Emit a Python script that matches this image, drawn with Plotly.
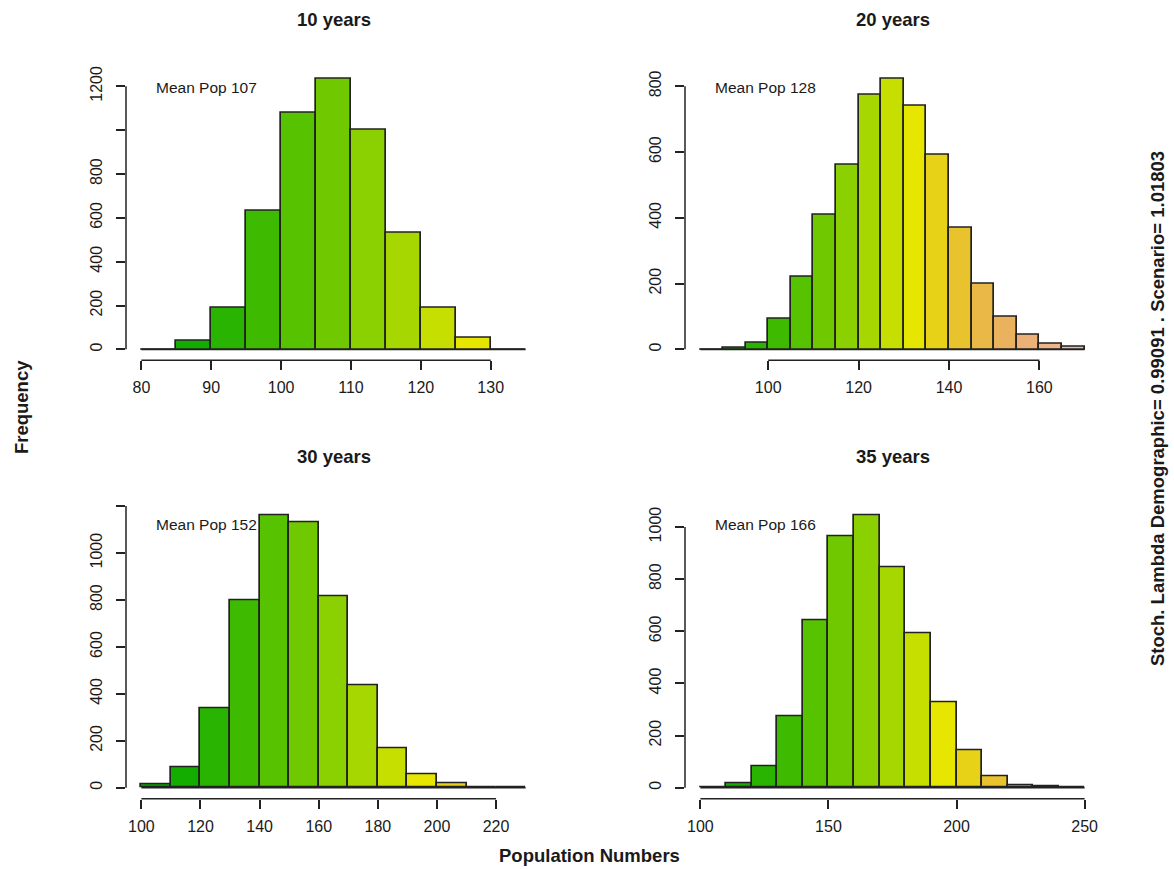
import colorsys
import plotly.graph_objects as go

W, H = 1174, 869

# ---------------- data ----------------
titles = ["10 years", "20 years", "30 years", "35 years"]
mean_pop = [107, 128, 152, 166]

breaks_10 = [80, 85, 90, 95, 100, 105, 110, 115, 120, 125, 130, 135]
counts_10 = [0, 38, 189, 632, 1077, 1235, 1001, 530, 188, 53, 0]

breaks_20 = [85, 90, 95, 100, 105, 110, 115, 120, 125, 130, 135, 140, 145, 150, 155, 160, 165, 170]
counts_20 = [0, 4, 21, 94, 221, 408, 562, 773, 823, 741, 590, 368, 199, 98, 43, 16, 8]

breaks_30 = [100, 110, 120, 130, 140, 150, 160, 170, 180, 190, 200, 210, 220, 230]
counts_30 = [13, 85, 339, 800, 1161, 1130, 817, 435, 168, 57, 20, 0, 0]

breaks_35 = [100, 110, 120, 130, 140, 150, 160, 170, 180, 190, 200, 210, 220, 230, 240, 250]
counts_35 = [0, 16, 84, 274, 642, 965, 1045, 844, 591, 327, 143, 44, 10, 4, 0]

xticks = [[80, 90, 100, 110, 120, 130],
          [100, 120, 140, 160],
          [100, 120, 140, 160, 180, 200, 220],
          [100, 150, 200, 250]]
yticks = [[0, 200, 400, 600, 800, 1000, 1200],
          [0, 200, 400, 600, 800],
          [0, 200, 400, 600, 800, 1000, 1200],
          [0, 200, 400, 600, 800, 1000]]
ytick_hidden = [[1000], [], [1200], []]

xlab = "Population Numbers"
ylab = "Frequency"
side_text = "Stoch. Lambda Demographic= 0.99091 . Scenario= 1.01803"

all_breaks = [breaks_10, breaks_20, breaks_30, breaks_35]
all_counts = [counts_10, counts_20, counts_30, counts_35]


# R terrain.colors(n)
def terrain_colors(n):
    k = n // 2
    def seq(a, b, m):
        if m == 1:
            return [a]
        return [a + (b - a) * i / (m - 1) for i in range(m)]
    hs = seq(4 / 12, 2 / 12, k) + seq(2 / 12, 0, n - k + 1)[1:]
    ss = seq(1, 1, k) + seq(1, 0, n - k + 1)[1:]
    vs = seq(0.65, 0.9, k) + seq(0.9, 0.95, n - k + 1)[1:]
    out = []
    for h, s, v in zip(hs, ss, vs):
        r, g, b = colorsys.hsv_to_rgb(h, s, v)
        out.append("#%02X%02X%02X" % (round(r * 255), round(g * 255), round(b * 255)))
    return out


pal = terrain_colors(20)

# panel regions in pixels (left, right, top, bottom)
regions = [(126, 541, 66, 359), (685, 1100, 66, 359),
           (126, 541, 503.5, 798.5), (685, 1100, 503.5, 798.5)]

FONT = "Liberation Sans, Arial, sans-serif"
INK = "#1a1a1a"

fig = go.Figure()
layout = dict(
    width=W, height=H,
    margin=dict(l=0, r=0, t=0, b=0),
    paper_bgcolor="white", plot_bgcolor="white",
    showlegend=False, bargap=0,
    font=dict(family=FONT, color=INK),
)
shapes = []
annotations = []

for i in range(4):
    br = all_breaks[i]
    ct = all_counts[i]
    centers = [(br[j] + br[j + 1]) / 2 for j in range(len(ct))]
    widths = [br[j + 1] - br[j] for j in range(len(ct))]
    cols = [pal[j % len(pal)] for j in range(len(ct))]
    ax = "" if i == 0 else str(i + 1)
    fig.add_trace(go.Bar(
        x=centers, y=ct, width=widths,
        marker=dict(color=cols, line=dict(color="#222222", width=1.7)),
        xaxis="x" + ax, yaxis="y" + ax, hoverinfo="x+y",
    ))
    l, r, t, b = regions[i]
    xr = [br[0] - 0.04 * (br[-1] - br[0]), br[-1] + 0.04 * (br[-1] - br[0])]
    ymax = max(ct)
    yr = [-0.04 * ymax, 1.04 * ymax]
    layout["xaxis" + ax] = dict(
        domain=[l / W, r / W], range=xr, anchor="y" + ax,
        showgrid=False, zeroline=False, showline=False,
        ticks="outside", ticklen=9, tickwidth=1.5, tickcolor="#222222",
        tickvals=xticks[i], ticktext=[str(v) for v in xticks[i]],
        tickfont=dict(size=16, family=FONT, color=INK),
        ticklabelstandoff=4,
    )
    layout["yaxis" + ax] = dict(
        domain=[1 - b / H, 1 - t / H], range=yr, anchor="x" + ax,
        showgrid=False, zeroline=False, showline=False,
        ticks="outside", ticklen=9, tickwidth=1.5, tickcolor="#222222",
        tickvals=yticks[i],
        ticktext=["" if v in ytick_hidden[i] else str(v) for v in yticks[i]],
        tickangle=-90,
        tickfont=dict(size=16, family=FONT, color=INK),
        ticklabelstandoff=8,
    )
    # R-style axis lines spanning first to last tick
    shapes.append(dict(type="line", xref="x" + ax, yref="y" + ax + " domain",
                       x0=xticks[i][0], x1=xticks[i][-1], y0=0, y1=0,
                       line=dict(color="#222222", width=1.5)))
    shapes.append(dict(type="line", xref="x" + ax + " domain", yref="y" + ax,
                       x0=0, x1=0, y0=yticks[i][0], y1=yticks[i][-1],
                       line=dict(color="#222222", width=1.5)))
    # baseline of empty bins
    shapes.append(dict(type="line", xref="x" + ax, yref="y" + ax,
                       x0=br[0], x1=br[-1], y0=0, y1=0,
                       line=dict(color="#222222", width=1.7), layer="below"))
    # title
    annotations.append(dict(text="<b>%s</b>" % titles[i], xref="paper", yref="paper",
                            x=(l + r) / 2 / W, y=1 - (t - 48) / H,
                            xanchor="center", yanchor="middle", showarrow=False,
                            font=dict(size=18.5, family=FONT, color=INK)))
    # legend-like text at top-left
    annotations.append(dict(text="Mean Pop %d" % mean_pop[i],
                            xref="x" + ax + " domain", yref="y" + ax + " domain",
                            x=0, y=1, xshift=28, yshift=-20,
                            xanchor="left", yanchor="middle", showarrow=False,
                            font=dict(size=15.5, family=FONT, color=INK)))

annotations.append(dict(text="<b>%s</b>" % ylab, xref="paper", yref="paper",
                        x=21 / W, y=1 - 406 / H, textangle=-90,
                        xanchor="center", yanchor="middle", showarrow=False,
                        font=dict(size=18.5, family=FONT, color=INK)))
annotations.append(dict(text="<b>%s</b>" % xlab, xref="paper", yref="paper",
                        x=589 / W, y=1 - 855 / H,
                        xanchor="center", yanchor="middle", showarrow=False,
                        font=dict(size=18.5, family=FONT, color=INK)))
annotations.append(dict(text="<b>%s</b>" % side_text, xref="paper", yref="paper",
                        x=1157 / W, y=1 - 408 / H, textangle=-90,
                        xanchor="center", yanchor="middle", showarrow=False,
                        font=dict(size=18.5, family=FONT, color=INK)))

layout["shapes"] = shapes
layout["annotations"] = annotations
fig.update_layout(**layout)
fig.write_html("out.html")
